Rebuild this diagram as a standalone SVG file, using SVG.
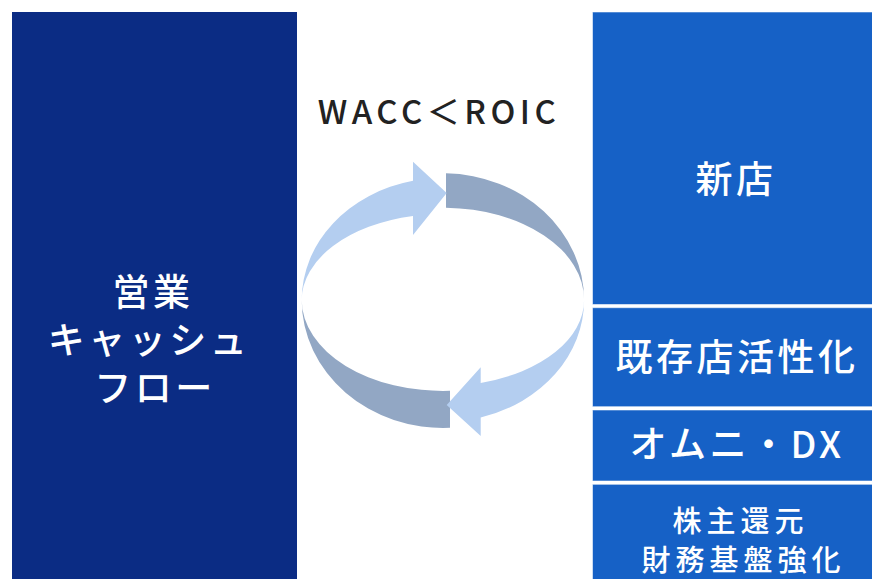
<svg xmlns="http://www.w3.org/2000/svg" width="872" height="579" viewBox="0 0 872 579">
  <style>
    .lbl { font-family: "Noto Sans CJK JP", "Noto Sans", sans-serif; fill: #ffffff; text-anchor: middle; font-weight: 500; }
    .big { font-size: 37px; letter-spacing: 3.5px; }
    .small { font-size: 29px; letter-spacing: 5px; }
    .rbox { fill: #1661C6; stroke: #ffffff; stroke-opacity: 0.55; stroke-width: 1; }
    .light { fill: #B4CEF0; }
    .dark { fill: #92A7C4; }
  </style>
  <rect width="872" height="579" fill="#ffffff"/>

  <g id="cashflow">
    <rect x="12" y="12" width="285" height="567" fill="#0B2C84"/>
    <text class="lbl big"><tspan x="153" y="306">営業</tspan><tspan x="149" y="354">キャッシュ</tspan><tspan x="155" y="402">フロー</tspan></text>
  </g>

  <g id="title">
    <text x="439" y="123.5" font-family="Noto Sans CJK JP, Noto Sans, sans-serif" font-size="33" font-weight="500" letter-spacing="4.5" fill="#222222" text-anchor="middle">WACC＜ROIC</text>
  </g>

  <g id="cycle">
    <path class="dark" d="M446,173.3 A141.2,127 0 0 1 584.1,300 A141.2,92 0 0 0 446,207.7 Z"/>
    <path class="dark" d="M450,427.8 A141.2,128 0 0 1 301.7,300 A141.2,91 0 0 0 450,390.8 Z"/>
    <path class="light" d="M301.7,300 A141.2,122 0 0 1 413,180.8 L413,161.7 L446.7,193 L413,235 L413,216 A141.2,86 0 0 0 301.7,300 Z"/>
    <path class="light" d="M584.1,300 A141.2,122 0 0 1 480.7,417.5 L480.7,436 L446.7,405 L480.7,367.3 L480.7,382.9 A141.2,86 0 0 0 584.1,300 Z"/>
  </g>

  <g id="shinten">
    <rect class="rbox" x="592.5" y="12" width="285" height="292.5"/>
    <text class="lbl big" x="736" y="192.5">新店</text>
  </g>
  <g id="kizonten">
    <rect class="rbox" x="592.5" y="307.7" width="285" height="99"/>
    <text class="lbl big" x="737" y="371">既存店活性化</text>
  </g>
  <g id="omni">
    <rect class="rbox" x="592.5" y="410" width="285" height="71"/>
    <text class="lbl big" x="737" y="458">オムニ・DX</text>
  </g>
  <g id="shareholder">
    <rect class="rbox" x="592.5" y="484.3" width="285" height="100"/>
    <text class="lbl small"><tspan x="740.5" y="532">株主還元</tspan><tspan x="743.5" y="571">財務基盤強化</tspan></text>
  </g>
</svg>
